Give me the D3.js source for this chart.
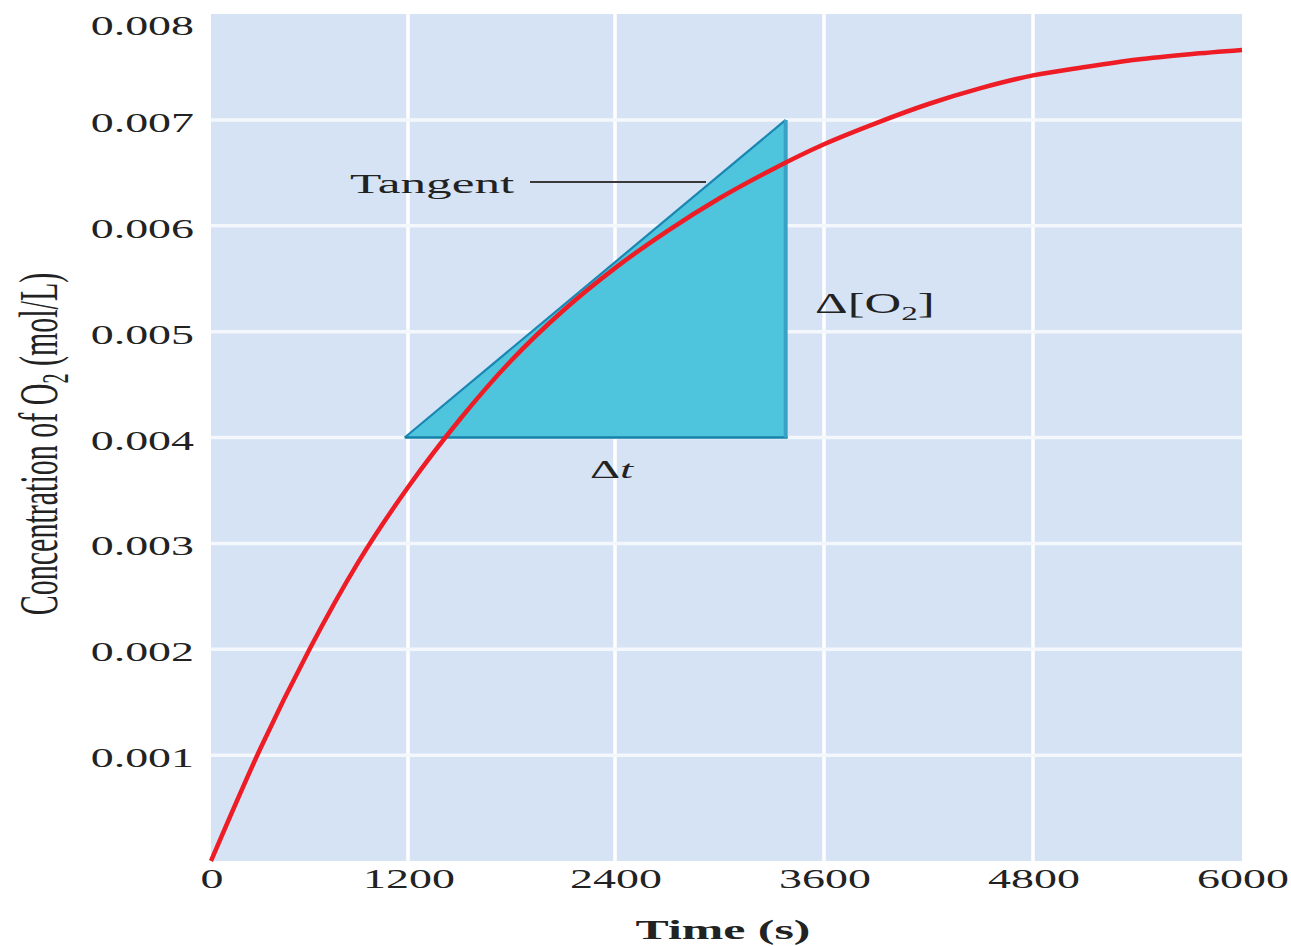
<!DOCTYPE html>
<html>
<head>
<meta charset="utf-8">
<script src="https://cdn.jsdelivr.net/npm/d3@7"></script>
<style>
  html, body { margin: 0; padding: 0; background: #ffffff; }
  svg { display: block; }
  text { font-family: "Liberation Serif", "Times New Roman", serif; fill: #222; }
</style>
</head>
<body>
<svg id="chart" width="1291" height="946"></svg>
<script>
// ---- data ----
const timeTicks = [0, 1200, 2400, 3600, 4800, 6000];
const timeTickLabels = ["0", "1200", "2400", "3600", "4800", "6000"];
const concTicks = [0.001, 0.002, 0.003, 0.004, 0.005, 0.006, 0.007, 0.008];
const concTickLabels = ["0.001", "0.002", "0.003", "0.004", "0.005", "0.006", "0.007", "0.008"];

const timeValues = [0, 300, 600, 900, 1200, 1500, 1800, 2100, 2400, 2700, 3000, 3300, 3600, 3900, 4200, 4500, 4800, 5100, 5400, 5700, 6000];
const o2Values   = [0, 0.00106, 0.00200, 0.00283, 0.00353, 0.00417, 0.00473, 0.00520, 0.00560, 0.00595, 0.00626, 0.00653, 0.00677, 0.00697, 0.00715, 0.00730, 0.00742, 0.00750, 0.00757, 0.00762, 0.00766];

const triangleTimes = [1180, 3380, 3380];
const triangleConc  = [0.004, 0.007, 0.004];

const xTitle = "Time (s)";
const yTitleMain = "Concentration of O";
const yTitleSub = "2";
const yTitleEnd = " (mol/L)";

// ---- scales ----
const svg = d3.select("#chart");
const x = d3.scaleLinear().domain([0, 1200, 2400, 3600, 4800, 6000]).range([211, 408, 615, 824, 1033, 1242]);
const y = d3.scaleLinear().domain([0, 0.008]).range([861, 14]);

// background
svg.append("rect")
  .attr("x", x(0)).attr("y", y(0.008))
  .attr("width", x(6000) - x(0)).attr("height", y(0) - y(0.008))
  .attr("fill", "#d5e3f5");

// grid
svg.append("g").selectAll("line")
  .data(timeTicks.filter(t => t > 0 && t < 6000))
  .join("line")
  .attr("x1", d => x(d)).attr("x2", d => x(d))
  .attr("y1", y(0)).attr("y2", y(0.008))
  .attr("stroke", "#ffffff").attr("stroke-width", 3.5);
svg.append("g").selectAll("line")
  .data(concTicks.filter(c => c < 0.008))
  .join("line")
  .attr("x1", x(0)).attr("x2", x(6000))
  .attr("y1", d => y(d)).attr("y2", d => y(d))
  .attr("stroke", "#f4f8fd").attr("stroke-width", 3.5);

// tangent triangle
const triPts = triangleTimes.map((t, i) => [x(t), y(triangleConc[i])]);
svg.append("path")
  .attr("d", d3.line()(triPts) + "Z")
  .attr("fill", "#4ec5dc");
svg.append("line")
  .attr("x1", triPts[0][0]).attr("y1", triPts[0][1])
  .attr("x2", triPts[1][0]).attr("y2", triPts[1][1])
  .attr("stroke", "#1a86b2").attr("stroke-width", 2.2);
svg.append("line")
  .attr("x1", triPts[0][0]).attr("y1", triPts[0][1])
  .attr("x2", triPts[2][0] + 2).attr("y2", triPts[2][1])
  .attr("stroke", "#1580aa").attr("stroke-width", 2.5);
svg.append("line")
  .attr("x1", triPts[1][0]).attr("y1", triPts[1][1])
  .attr("x2", triPts[2][0]).attr("y2", triPts[2][1])
  .attr("stroke", "#37a2c5").attr("stroke-width", 4);

// curve
const curveData = timeValues.map((t, i) => [t, o2Values[i]]);
svg.append("path")
  .datum(curveData)
  .attr("d", d3.line().x(d => x(d[0])).y(d => y(d[1])).curve(d3.curveMonotoneX))
  .attr("fill", "none")
  .attr("stroke", "#ee1c25")
  .attr("stroke-width", 4.5);

function stretchedText(px, py, str, size, sx, anchor, weight) {
  return svg.append("text")
    .attr("transform", `translate(${px},${py}) scale(${sx},1)`)
    .attr("text-anchor", anchor || "start")
    .attr("font-size", size)
    .attr("font-weight", weight || "normal")
    .text(str);
}

// y tick labels
concTicks.forEach((c, i) => {
  const py = Math.max(y(c) + 3, 26);
  stretchedText(194, py + 9, concTickLabels[i], 27, 1.7, "end");
});
// x tick labels
timeTicks.forEach((t, i) => {
  stretchedText(x(t) + 1, 888, timeTickLabels[i], 27, 1.7, "middle");
});

// x title
stretchedText(723, 939, xTitle, 28, 1.78, "middle", "bold");

// y title
const yt = svg.append("text")
  .attr("transform", "translate(57,444) scale(1.85,1) rotate(-90)")
  .attr("text-anchor", "middle")
  .attr("font-size", 30);
yt.append("tspan").text(yTitleMain);
yt.append("tspan").attr("font-size", 20).attr("dy", 6).text(yTitleSub);
yt.append("tspan").attr("dy", -6).text(yTitleEnd);

// annotations
stretchedText(350, 193, "Tangent", 28, 1.83, "start");
svg.append("line")
  .attr("x1", 530).attr("x2", 706).attr("y1", 182).attr("y2", 182)
  .attr("stroke", "#3a3a3a").attr("stroke-width", 2);

const dO = svg.append("text")
  .attr("transform", "translate(815,313) scale(1.75,1)")
  .attr("font-size", 29);
dO.append("tspan").text("Δ[O");
dO.append("tspan").attr("font-size", 19).attr("dy", 7).text("2");
dO.append("tspan").attr("dy", -7).text("]");

const dt = svg.append("text")
  .attr("transform", "translate(590,478) scale(1.8,1)")
  .attr("font-size", 26);
dt.append("tspan").text("Δ");
dt.append("tspan").attr("font-style", "italic").text("t");
</script>
</body>
</html>
